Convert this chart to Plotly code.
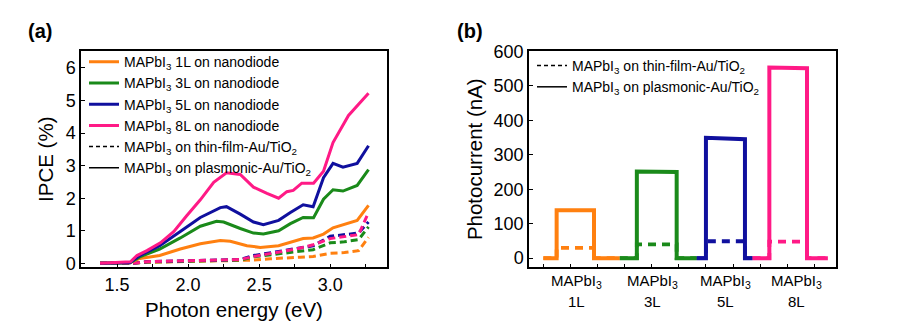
import plotly.graph_objects as go

# ---------------- Panel (a): IPCE spectra ----------------
# Photon energy (eV) and IPCE (%) — solid = plasmonic-Au/TiO2 nanodiode
E_1L = [1.38, 1.59, 1.66, 1.80, 1.945, 2.086, 2.227, 2.297, 2.414, 2.508, 2.637, 2.74, 2.81, 2.88, 2.953, 3.02, 3.19, 3.27]
P_1L = [0.0, 0.02, 0.15, 0.24, 0.44, 0.60, 0.70, 0.68, 0.54, 0.49, 0.54, 0.68, 0.76, 0.78, 0.90, 1.09, 1.32, 1.78]

E_3L = [1.38, 1.59, 1.66, 1.80, 1.945, 2.086, 2.20, 2.25, 2.367, 2.46, 2.53, 2.637, 2.72, 2.81, 2.883, 2.953, 3.02, 3.09, 3.19, 3.27]
P_3L = [0.0, 0.02, 0.20, 0.44, 0.78, 1.14, 1.29, 1.27, 1.07, 0.93, 0.90, 1.00, 1.22, 1.41, 1.40, 1.97, 2.26, 2.22, 2.39, 2.88]

E_5L = [1.38, 1.59, 1.66, 1.80, 1.945, 2.086, 2.227, 2.27, 2.367, 2.46, 2.53, 2.637, 2.72, 2.81, 2.88, 2.953, 3.02, 3.09, 3.19, 3.27]
P_5L = [0.0, 0.02, 0.24, 0.54, 0.98, 1.41, 1.71, 1.74, 1.51, 1.27, 1.19, 1.32, 1.56, 1.80, 1.74, 2.63, 3.07, 2.95, 3.07, 3.61]

E_8L = [1.38, 1.594, 1.64, 1.71, 1.805, 1.90, 1.99, 2.086, 2.18, 2.27, 2.367, 2.46, 2.555, 2.637, 2.695, 2.74, 2.80, 2.883, 2.953, 3.02, 3.129, 3.27]
P_8L = [0.0, 0.05, 0.24, 0.39, 0.63, 0.98, 1.46, 1.95, 2.49, 2.78, 2.73, 2.34, 2.15, 2.00, 2.20, 2.24, 2.46, 2.46, 2.83, 3.71, 4.54, 5.22]

# dashed = thin-film-Au/TiO2
Ed = [1.38, 1.60, 1.71, 1.945, 2.18, 2.367, 2.46, 2.58, 2.67, 2.79, 2.88, 3.00, 3.10, 3.20, 3.27]
D_1L = [0.0, 0.0, 0.03, 0.05, 0.06, 0.07, 0.10, 0.14, 0.17, 0.19, 0.21, 0.31, 0.33, 0.39, 0.80]
D_3L = [0.0, 0.0, 0.04, 0.06, 0.08, 0.10, 0.20, 0.26, 0.31, 0.37, 0.42, 0.63, 0.66, 0.73, 1.12]
D_5L = [0.0, 0.0, 0.05, 0.08, 0.10, 0.12, 0.24, 0.32, 0.39, 0.47, 0.54, 0.83, 0.88, 0.93, 1.27]
D_8L = [0.0, 0.0, 0.05, 0.08, 0.10, 0.12, 0.21, 0.29, 0.37, 0.47, 0.57, 0.76, 0.83, 0.88, 1.56]

# ---------------- Panel (b): photocurrent on/off ----------------
t_1L = [0.0, 0.49, 0.49, 1.87, 1.87, 2.82]
t_3L = [2.82, 3.45, 3.45, 4.92, 4.92, 5.66]
t_5L = [5.66, 6.00, 6.00, 7.44, 7.44, 7.72]
t_8L = [7.72, 8.34, 8.34, 9.73, 9.73, 10.5]
I_1L = [0, 0, 139, 139, 0, 0]
I_3L = [0, 0, 251, 250, 0, 0]
I_5L = [0, 0, 349, 345, 0, 0]
I_8L = [0, 0, 553, 551, 0, 0]
Id_1L = [0, 0, 30, 30, 0, 0]
Id_3L = [0, 0, 40, 40, 0, 0]
Id_5L = [0, 0, 49, 49, 0, 0]
Id_8L = [0, 0, 48, 48, 0, 0]

cat_top = ["MAPbI<sub>3</sub>"] * 4
cat_bottom = ["1L", "3L", "5L", "8L"]
cat_pos = [1.23, 4.02, 6.74, 9.35]

names = ["1L", "3L", "5L", "8L"]
colors = ["#FF8010", "#1A8A1A", "#10109E", "#FF1A86"]

FONT = "Liberation Sans, Arial, sans-serif"
fig = go.Figure()

Es = [E_1L, E_3L, E_5L, E_8L]
Ps = [P_1L, P_3L, P_5L, P_8L]
Ds = [D_1L, D_3L, D_5L, D_8L]

# dashed curves first
for d, c in zip(Ds, colors):
    fig.add_trace(go.Scatter(x=Ed, y=d, mode="lines", line=dict(color=c, width=3, dash="7px,4px"),
                             showlegend=False, xaxis="x", yaxis="y"))
for e, p, c, n in zip(Es, Ps, colors, names):
    fig.add_trace(go.Scatter(x=e, y=p, mode="lines", line=dict(color=c, width=3),
                             name=f"MAPbI<sub>3</sub> {n} on nanodiode", legend="legend",
                             xaxis="x", yaxis="y"))
fig.add_trace(go.Scatter(x=[None], y=[None], mode="lines", line=dict(color="black", width=1.5, dash="4px,3px"),
                         name="MAPbI<sub>3</sub> on thin-film-Au/TiO<sub>2</sub>", legend="legend", xaxis="x", yaxis="y"))
fig.add_trace(go.Scatter(x=[None], y=[None], mode="lines", line=dict(color="black", width=1.5),
                         name="MAPbI<sub>3</sub> on plasmonic-Au/TiO<sub>2</sub>", legend="legend", xaxis="x", yaxis="y"))

# panel b
ts = [t_1L, t_3L, t_5L, t_8L]
Is = [I_1L, I_3L, I_5L, I_8L]
Ids = [Id_1L, Id_3L, Id_5L, Id_8L]
for t, i, c in zip(ts, Ids, colors):
    fig.add_trace(go.Scatter(x=t, y=i, mode="lines", line=dict(color=c, width=3.8, dash="8px,6px"),
                             showlegend=False, xaxis="x2", yaxis="y2"))
for t, i, c in zip(ts, Is, colors):
    fig.add_trace(go.Scatter(x=t, y=i, mode="lines", line=dict(color=c, width=4),
                             showlegend=False, xaxis="x2", yaxis="y2"))
fig.add_trace(go.Scatter(x=[None], y=[None], mode="lines", line=dict(color="black", width=1.5, dash="4px,3px"),
                         name="MAPbI<sub>3</sub> on thin-film-Au/TiO<sub>2</sub>", legend="legend2", xaxis="x2", yaxis="y2"))
fig.add_trace(go.Scatter(x=[None], y=[None], mode="lines", line=dict(color="black", width=1.5),
                         name="MAPbI<sub>3</sub> on plasmonic-Au/TiO<sub>2</sub>", legend="legend2", xaxis="x2", yaxis="y2"))

W, H = 900, 324
ax_common = dict(showline=True, linecolor="black", linewidth=1.5, mirror=True, showgrid=False,
                 zeroline=False, tickfont=dict(family=FONT, size=18, color="black"),
                 ticks="inside", ticklen=4, tickwidth=1.2, tickcolor="black")

fig.update_layout(
    width=W, height=H, margin=dict(l=0, r=0, t=0, b=0),
    paper_bgcolor="white", plot_bgcolor="white",
    font=dict(family=FONT, color="black"),
    xaxis=dict(domain=[81 / W, 387 / W], range=[1.246, 3.40], tickvals=[1.5, 2.0, 2.5, 3.0],
               ticktext=["1.5", "2.0", "2.5", "3.0"],
               title=dict(text="Photon energy (eV)", font=dict(family=FONT, size=20.5), standoff=9),
               minor=dict(tickvals=[1.75, 2.25, 2.75, 3.25], ticks="inside", ticklen=4, tickcolor="black"),
               anchor="y", **ax_common),
    yaxis=dict(domain=[1 - 271 / H, 1 - 44 / H], range=[-0.126, 6.52], dtick=1,
               title=dict(text="IPCE (%)", font=dict(family=FONT, size=20.5), standoff=6),
               anchor="x", **ax_common),
    xaxis2=dict(domain=[529 / W, 836 / W], range=[-0.53, 10.8], dtick=1, tick0=0, showticklabels=False,
                anchor="y2", **ax_common),
    yaxis2=dict(domain=[1 - 271 / H, 1 - 44 / H], range=[-27, 601], dtick=100,
                title=dict(text="Photocurrent (nA)", font=dict(family=FONT, size=20.5), standoff=5),
                anchor="x2", **ax_common),
    legend=dict(x=84 / W, y=1 - 39 / H, xanchor="left", yanchor="top", bgcolor="rgba(0,0,0,0)",
                font=dict(family=FONT, size=14, color="black"), tracegroupgap=0),
    legend2=dict(x=532 / W, y=1 - 43 / H, xanchor="left", yanchor="top", bgcolor="rgba(0,0,0,0)",
                 font=dict(family=FONT, size=14, color="black"), tracegroupgap=0),
)

annos = [
    dict(text="<b>(a)</b>", x=40 / W, y=1 - 23 / H, xref="paper", yref="paper", showarrow=False,
         xanchor="center", yanchor="middle", font=dict(family=FONT, size=20, color="black")),
    dict(text="<b>(b)</b>", x=470 / W, y=1 - 23 / H, xref="paper", yref="paper", showarrow=False,
         xanchor="center", yanchor="middle", font=dict(family=FONT, size=20, color="black")),
]
for top, bot, pos in zip(cat_top, cat_bottom, cat_pos):
    annos.append(dict(text=top, x=pos, xref="x2", y=1 - 286 / H, yref="paper", showarrow=False,
                      xanchor="center", yanchor="middle", font=dict(family=FONT, size=15, color="black")))
    annos.append(dict(text=bot, x=pos, xref="x2", y=1 - 307 / H, yref="paper", showarrow=False,
                      xanchor="center", yanchor="middle", font=dict(family=FONT, size=15, color="black")))
fig.update_layout(annotations=annos)

fig.write_html("out.html")
